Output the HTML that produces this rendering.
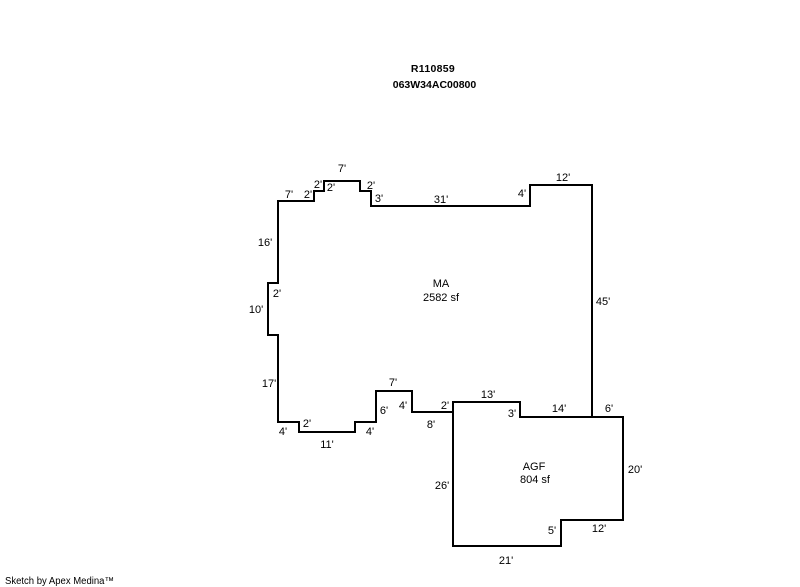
<!DOCTYPE html>
<html>
<head>
<meta charset="utf-8">
<style>
html,body{margin:0;padding:0;background:#fff;width:800px;height:587px;overflow:hidden}
svg{display:block}
text{font-family:"Liberation Sans",Arial,sans-serif;font-size:11px;fill:#000;text-anchor:middle}
.b{font-weight:bold;font-size:10.5px}
</style>
</head>
<body>
<svg width="800" height="587" viewBox="0 0 800 587" xmlns="http://www.w3.org/2000/svg">
<g fill="none" stroke="#000" stroke-width="2" stroke-linecap="square" stroke-linejoin="miter" shape-rendering="crispEdges">
<path d="M592 417V185H530V206H371V191H360V181H324V191H314V201H278V283H268V335H278V422H299V432H355V422H376V391H412V412H453"/>
<path d="M453 402H520V417H623V520H561V546H453Z"/>
</g>
<text class="b" x="433" y="72" style="letter-spacing:.3px">R110859</text>
<text class="b" x="434.5" y="88">063W34AC00800</text>
<text x="342" y="172">7'</text>
<text x="289" y="198">7'</text>
<text x="308" y="198">2'</text>
<text x="318" y="188">2'</text>
<text x="331" y="191">2'</text>
<text x="371" y="189">2'</text>
<text x="379" y="202">3'</text>
<text x="265" y="246">16'</text>
<text x="277" y="297">2'</text>
<text x="441" y="203">31'</text>
<text x="522" y="197">4'</text>
<text x="563" y="181">12'</text>
<text x="603" y="305">45'</text>
<text x="256" y="313">10'</text>
<text x="269" y="387">17'</text>
<text x="283" y="435">4'</text>
<text x="307" y="427">2'</text>
<text x="327" y="448">11'</text>
<text x="370" y="435">4'</text>
<text x="384" y="414">6'</text>
<text x="393" y="386">7'</text>
<text x="403" y="409">4'</text>
<text x="431" y="428">8'</text>
<text x="445" y="409">2'</text>
<text x="488" y="398">13'</text>
<text x="512" y="417">3'</text>
<text x="559" y="412">14'</text>
<text x="609" y="412">6'</text>
<text x="635" y="473">20'</text>
<text x="442" y="489">26'</text>
<text x="552" y="534">5'</text>
<text x="599" y="532">12'</text>
<text x="506" y="564">21'</text>
<text x="441" y="287">MA</text>
<text x="441" y="301">2582 sf</text>
<text x="534" y="470">AGF</text>
<text x="535" y="483">804 sf</text>
<text x="5" y="584" textLength="109" lengthAdjust="spacingAndGlyphs" style="text-anchor:start;font-size:10px">Sketch by Apex Medina™</text>
</svg>
</body>
</html>
